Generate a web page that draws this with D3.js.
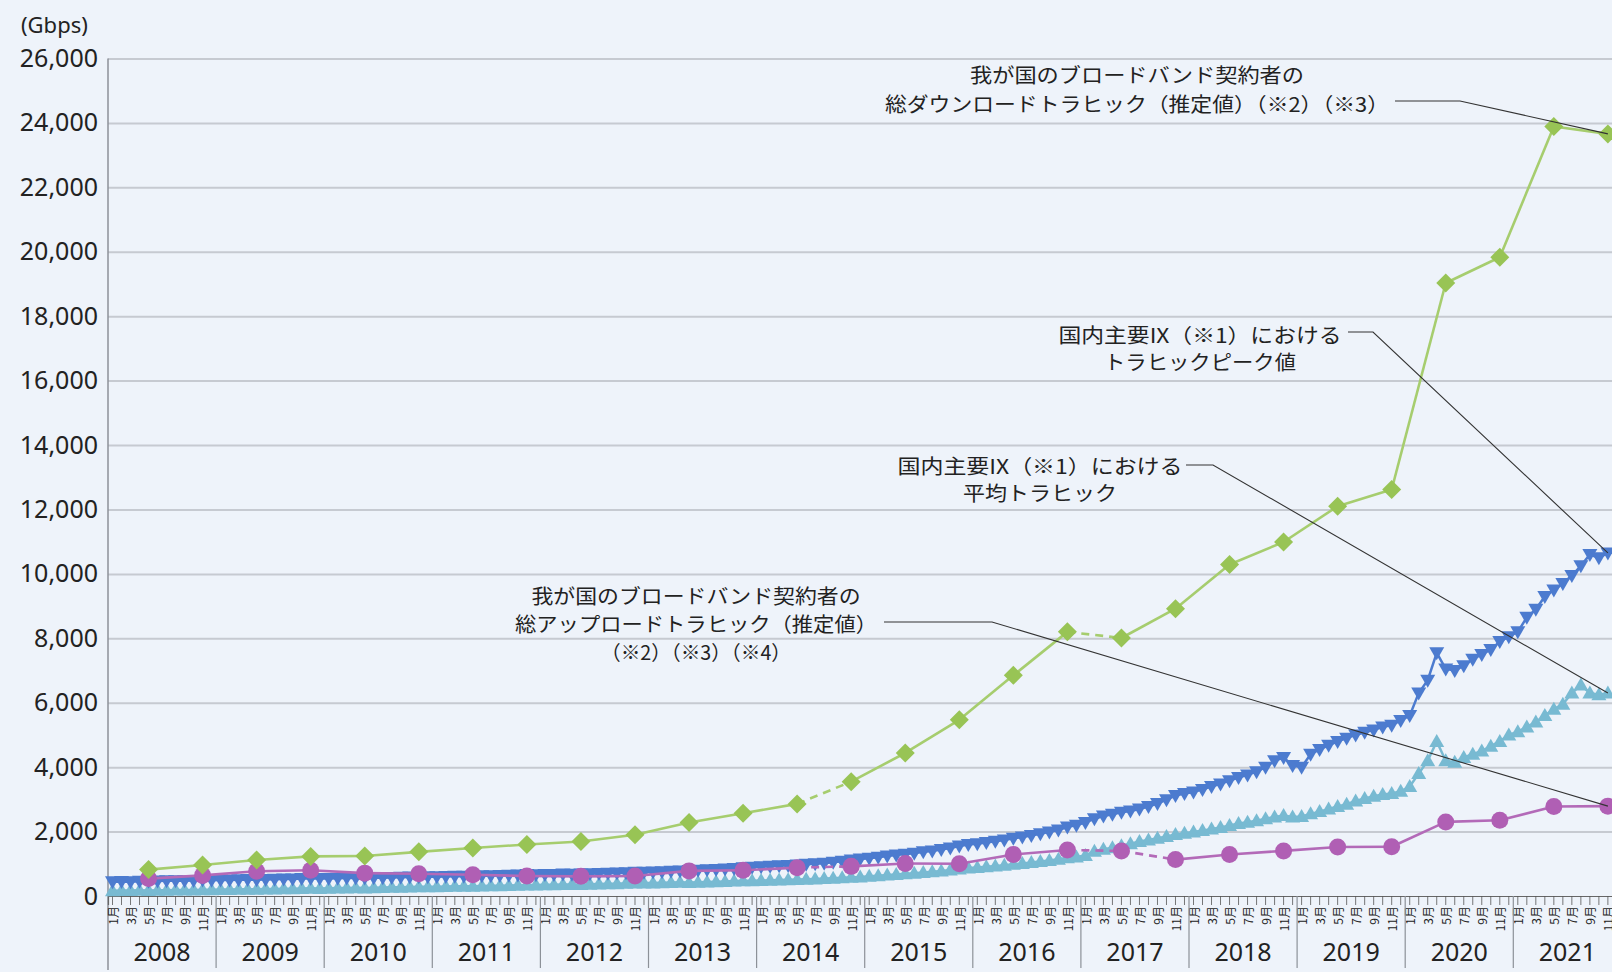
<!DOCTYPE html>
<html>
<head>
<meta charset="utf-8">
<script src="https://cdn.jsdelivr.net/npm/d3@7"></script>
<style>
html,body{margin:0;padding:0;background:#eef3fa;overflow:hidden;}
svg{display:block;}
text{font-family:"Noto Sans","Noto Sans CJK JP",sans-serif;fill:#222;}
.jp{font-family:"Noto Sans CJK JP",sans-serif;}
</style>
</head>
<body>
<svg id="chart" width="1612" height="972"></svg>
<script>
// ---------------- data ----------------
const years = [2008,2009,2010,2011,2012,2013,2014,2015,2016,2017,2018,2019,2020,2021];
const monthNumbers = [1,2,3,4,5,6,7,8,9,10,11,12];
const monthTickLabels = {1:"1月",3:"3月",5:"5月",7:"7月",9:"9月",11:"11月"};
const yTicks = [0,2000,4000,6000,8000,10000,12000,14000,16000,18000,20000,22000,24000,26000];
const yUnit = "(Gbps)";

// semi-annual estimates (May / November)
const broadbandDates = ["2008-5","2008-11","2009-5","2009-11","2010-5","2010-11","2011-5","2011-11",
  "2012-5","2012-11","2013-5","2013-11","2014-5","2014-11","2015-5","2015-11","2016-5","2016-11",
  "2017-5","2017-11","2018-5","2018-11","2019-5","2019-11","2020-5","2020-11","2021-5","2021-11"];
const downloadTraffic = [820,960,1120,1230,1240,1370,1490,1600,1690,1900,2280,2570,2860,3550,
  4440,5470,6850,8200,8010,8920,10290,10990,12100,12620,19030,19830,23890,23660];
const uploadTraffic = [540,640,770,800,710,690,660,620,610,620,780,800,880,920,
  1010,1000,1290,1430,1400,1130,1290,1400,1520,1530,2300,2350,2780,2790];
const downloadDashed = [["2014-5","2014-11"],["2016-11","2017-5"]];
const uploadDashed = [["2014-5","2014-11"],["2016-11","2017-5"],["2017-5","2017-11"]];

// monthly IX traffic, Jan 2008 - Nov 2021
const ixPeakTraffic = [
  440,450,445,460,455,465,470,475,470,485,495,490,
  495,500,505,510,505,515,520,525,530,540,545,540,
  545,550,555,560,555,565,570,575,580,590,600,595,
  600,605,615,610,620,625,630,640,645,655,665,660,
  665,670,680,675,685,690,700,705,715,725,735,740,
  745,755,770,775,790,800,815,825,840,855,875,890,
  905,920,940,950,965,985,1000,1020,1045,1075,1120,1150,
  1170,1200,1240,1270,1300,1330,1370,1400,1440,1490,1550,1600,
  1620,1660,1700,1740,1790,1830,1880,1930,1990,2050,2140,2200,
  2280,2400,2480,2540,2600,2640,2700,2780,2870,2990,3120,3180,
  3230,3310,3400,3480,3580,3680,3760,3860,4000,4200,4300,4050,
  4000,4400,4550,4680,4800,4900,5000,5080,5150,5250,5300,5450,
  5600,6300,6700,7550,7050,7000,7150,7350,7500,7650,7900,8050,
  8200,8650,8900,9300,9500,9700,9950,10250,10600,10500,10650];
const ixAverageTraffic = [
  165,170,168,175,172,178,182,185,183,190,196,194,
  198,202,206,210,208,214,218,222,226,232,238,236,
  240,245,250,254,252,258,262,268,272,280,288,286,
  290,295,300,305,302,310,316,322,328,336,344,342,
  346,350,356,360,358,366,372,378,384,392,402,400,
  405,412,418,424,422,430,438,446,452,462,472,470,
  480,488,496,504,512,520,530,540,552,566,584,592,
  610,630,650,670,690,710,730,752,776,805,840,868,
  885,905,930,955,985,1010,1040,1070,1105,1140,1185,1210,
  1260,1390,1450,1500,1560,1620,1690,1740,1790,1850,1910,1950,
  1990,2030,2080,2130,2190,2250,2290,2340,2400,2450,2500,2450,
  2470,2550,2620,2700,2780,2850,2950,3030,3100,3150,3180,3250,
  3400,3800,4200,4800,4200,4150,4300,4400,4500,4650,4800,5000,
  5100,5250,5400,5600,5800,5950,6300,6550,6300,6250,6300];

const labelDownload = ["我が国のブロードバンド契約者の","総ダウンロードトラヒック（推定値）（※2）（※3）"];
const labelPeak = ["国内主要IX（※1）における","トラヒックピーク値"];
const labelAverage = ["国内主要IX（※1）における","平均トラヒック"];
const labelUpload = ["我が国のブロードバンド契約者の","総アップロードトラヒック（推定値）","（※2）（※3）（※4）"];

// ---------------- chart ----------------
const svg = d3.select("#chart");
const W = 1612, H = 972;
const left = 108, yearWidth = 108.1;
const allMonths = [];
years.forEach(yr => monthNumbers.forEach(m => allMonths.push(yr + "-" + m)));
const monthKeys = allMonths.slice(0, ixPeakTraffic.length);

const x = d3.scaleBand().domain(allMonths).range([left, left + yearWidth * years.length]);
const xYear = d3.scaleBand().domain(years).range([left, left + yearWidth * years.length]);
const y = d3.scaleLinear().domain([0, 26000]).range([896, 58.5]);
const cx = k => x(k) + x.bandwidth() / 2;

svg.append("rect").attr("width", W).attr("height", H).attr("fill", "#eef3fa");

// gridlines + y labels
const yAxis = d3.axisLeft(y).tickValues(yTicks).tickFormat(d3.format(",")).tickSize(-(W - left)).tickPadding(10);
const gy = svg.append("g").attr("transform", `translate(${left},0)`).call(yAxis);
gy.select(".domain").remove();
gy.selectAll(".tick line").attr("stroke", "#c6cad1").attr("stroke-width", 2)
  .filter(d => d === 0).attr("stroke", "none");
gy.selectAll(".tick text").attr("font-size", 25).attr("fill", "#222")
  .style("font-family", "'Noto Sans',sans-serif");

svg.append("text").attr("x", 21).attr("y", 33).attr("font-size", 22).attr("fill", "#222").text(yUnit);

// y axis line
svg.append("line").attr("x1", left).attr("x2", left).attr("y1", y(26000)).attr("y2", 970)
  .attr("stroke", "#8c9198").attr("stroke-width", 1.5);

// x axis ticks
const xAxis = d3.axisBottom(x).tickValues(allMonths).tickSize(9).tickFormat("");
const gx = svg.append("g").attr("transform", `translate(0,${y(0)})`).call(xAxis);
gx.select(".domain").attr("stroke", "#666").attr("stroke-width", 1.2);
gx.selectAll(".tick line").attr("stroke", "#555").attr("stroke-width", 0.8);

// month labels
const ml = svg.append("g");
years.forEach(yr => {
  Object.keys(monthTickLabels).forEach(m => {
    const k = yr + "-" + m;
    ml.append("text").attr("class", "jp")
      .attr("transform", `translate(${cx(k)},906) rotate(-90)`)
      .attr("text-anchor", "end").attr("dominant-baseline", "central")
      .attr("font-size", 12).attr("fill", "#222").text(monthTickLabels[m]);
  });
});

// year separators + labels
const yearEdges = years.map(yr => xYear(yr)).concat([xYear(years[years.length-1]) + xYear.bandwidth()]);
svg.append("g").selectAll("line").data(yearEdges.slice(1)).join("line")
  .attr("x1", d => d).attr("x2", d => d).attr("y1", y(0)).attr("y2", 968)
  .attr("stroke", "#8c9198").attr("stroke-width", 1.2);
svg.append("g").selectAll("text").data(years).join("text")
  .attr("x", d => xYear(d) + xYear.bandwidth() / 2).attr("y", 961)
  .attr("text-anchor", "middle").attr("font-size", 25).attr("fill", "#333").text(d => d);

// ---------- series ----------
const colAvg = "#78bad2", colPeak = "#4c7bcf", colUp = "#b05fb4", colDown = "#98c455";
const line = d3.line().x(d => cx(d.k)).y(d => y(d.v));

function monthly(values, color, markerPath) {
  const pts = values.map((v, i) => ({k: monthKeys[i], v}));
  const g = svg.append("g");
  g.append("path").datum(pts).attr("d", line).attr("fill", "none")
    .attr("stroke", color).attr("stroke-width", 2.5);
  g.selectAll("path.m").data(pts).join("path").attr("class", "m")
    .attr("transform", d => `translate(${cx(d.k)},${y(d.v)})`)
    .attr("d", markerPath).attr("fill", color);
}
monthly(ixAverageTraffic, colAvg, "M-7.5,5.5L7.5,5.5L0,-7.5Z");
monthly(ixPeakTraffic, colPeak, "M-7.5,-5.5L7.5,-5.5L0,7.5Z");

function semiAnnual(values, dashed, color, lineColor, marker) {
  const pts = values.map((v, i) => ({k: broadbandDates[i], v}));
  const g = svg.append("g");
  const isDashed = (a, b) => dashed.some(s => s[0] === a && s[1] === b);
  for (let i = 0; i < pts.length - 1; i++) {
    g.append("path").datum([pts[i], pts[i+1]]).attr("d", line).attr("fill", "none")
      .attr("stroke", lineColor).attr("stroke-width", 2.6)
      .attr("stroke-dasharray", isDashed(pts[i].k, pts[i+1].k) ? "8,6" : null);
  }
  marker(g.selectAll(".m").data(pts).join(marker === circle ? "circle" : "path").attr("class", "m"), color);
}
function circle(sel, color) {
  sel.attr("cx", d => cx(d.k)).attr("cy", d => y(d.v)).attr("r", 8.5).attr("fill", color);
}
function diamond(sel, color) {
  sel.attr("transform", d => `translate(${cx(d.k)},${y(d.v)})`)
    .attr("d", "M0,-9.5L9.5,0L0,9.5L-9.5,0Z").attr("fill", color);
}
semiAnnual(uploadTraffic, uploadDashed, colUp, "#b36ab8", circle);
semiAnnual(downloadTraffic, downloadDashed, colDown, "#a6cd6e", diamond);

// ---------- annotations ----------
function annotate(lines, widths, cxText, yFirst, lineGap, leader, target) {
  const g = svg.append("g");
  lines.forEach((t, i) => {
    g.append("text").attr("class", "jp").attr("x", cxText).attr("y", yFirst + i * lineGap)
      .attr("text-anchor", "middle").attr("dominant-baseline", "central")
      .attr("font-size", 20).attr("fill", "#1e1e1e")
      .attr("textLength", widths[i]).attr("lengthAdjust", "spacingAndGlyphs").text(t);
  });
  const pts = [[leader[0], leader[2]], [leader[1], leader[2]], target];
  g.append("path").attr("d", d3.line()(pts)).attr("fill", "none")
    .attr("stroke", "#333").attr("stroke-width", 1.1);
}
const lastBB = broadbandDates[broadbandDates.length - 1];
const lastM = monthKeys[monthKeys.length - 1];
annotate(labelDownload, [334, 504], 1137, 74, 29, [1395, 1460, 101],
  [cx(lastBB), y(downloadTraffic[downloadTraffic.length - 1])]);
annotate(labelPeak, [283, 192], 1200, 334, 27, [1348, 1373, 332],
  [cx(lastM), y(ixPeakTraffic[ixPeakTraffic.length - 1])]);
annotate(labelAverage, [285, 154], 1040, 465, 27, [1186, 1213, 465],
  [cx(lastM), y(ixAverageTraffic[ixAverageTraffic.length - 1])]);
annotate(labelUpload, [329, 362, 190], 696, 595, 28, [884, 992, 622],
  [cx(lastBB), y(uploadTraffic[uploadTraffic.length - 1])]);
</script>
</body>
</html>
